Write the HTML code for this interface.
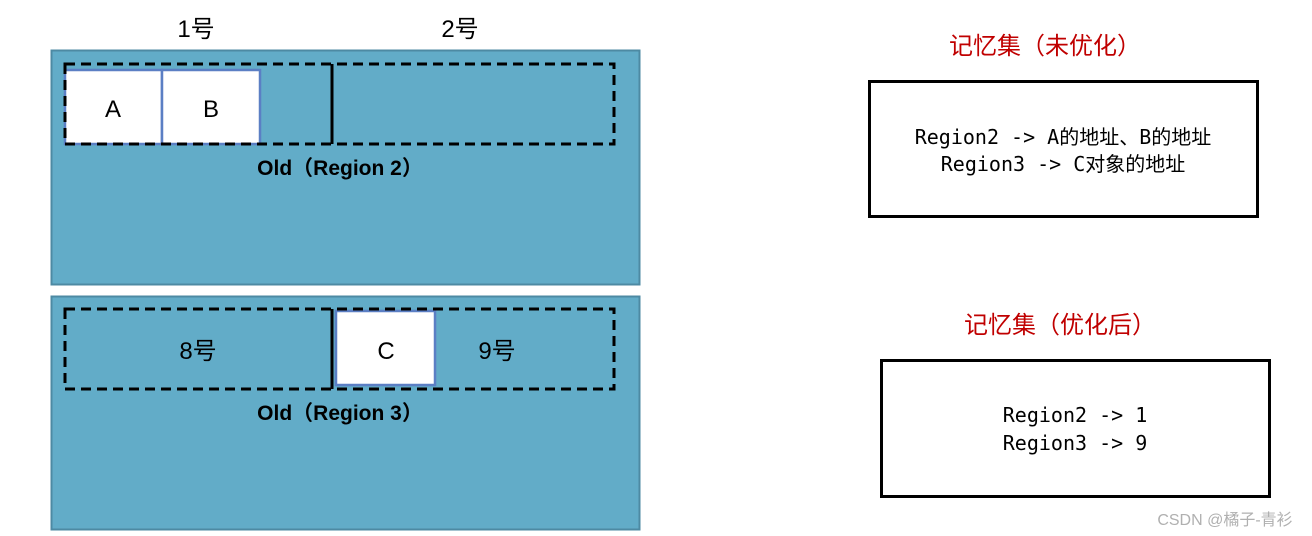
<!DOCTYPE html>
<html><head><meta charset="utf-8"><style>
html,body{margin:0;padding:0;background:#fff;width:1312px;height:536px;overflow:hidden}
text{font-family:"Liberation Sans","Noto Sans CJK SC",sans-serif}
.m{font-family:"DejaVu Sans Mono","Liberation Mono","Noto Sans CJK SC",monospace}
</style></head><body>
<svg width="1312" height="536" xmlns="http://www.w3.org/2000/svg">
<text x="196" y="37" font-size="24" text-anchor="middle">1号</text>
<text x="460" y="37" font-size="24" text-anchor="middle">2号</text>
<rect x="51.5" y="50.5" width="588" height="234" fill="#62acc8" stroke="#4d8aa3" stroke-width="2"/>
<rect x="65" y="70" width="97" height="74" fill="#fff" stroke="#5b7fc4" stroke-width="2.5"/>
<rect x="162" y="70" width="98" height="74" fill="#fff" stroke="#5b7fc4" stroke-width="2.5"/>
<rect x="65" y="64" width="549" height="80" fill="none" stroke="#000" stroke-width="3" stroke-dasharray="10,6"/>
<line x1="332" y1="64" x2="332" y2="144" stroke="#000" stroke-width="3"/>
<text x="113" y="117" font-size="24" text-anchor="middle">A</text>
<text x="211" y="117" font-size="24" text-anchor="middle">B</text>
<text x="340" y="175" font-size="21" font-weight="bold" text-anchor="middle">Old（Region 2）</text>

<rect x="51.5" y="296.5" width="588" height="233" fill="#62acc8" stroke="#4d8aa3" stroke-width="2"/>
<rect x="336" y="311" width="99" height="74" fill="#fff" stroke="#5b7fc4" stroke-width="2.5"/>
<rect x="65" y="309" width="549" height="80" fill="none" stroke="#000" stroke-width="3" stroke-dasharray="10,6"/>
<line x1="332" y1="309" x2="332" y2="389" stroke="#000" stroke-width="3"/>
<text x="198" y="359" font-size="24" text-anchor="middle">8号</text>
<text x="386" y="359" font-size="24" text-anchor="middle">C</text>
<text x="497" y="359" font-size="24" text-anchor="middle">9号</text>
<text x="340" y="420" font-size="21" font-weight="bold" text-anchor="middle">Old（Region 3）</text>

<text x="1045" y="54" font-size="24" fill="#c00000" text-anchor="middle">记忆集（未优化）</text>
<rect x="869.5" y="81.5" width="388" height="135" fill="#fff" stroke="#000" stroke-width="3"/>
<text x="1063" y="144" class="m" font-size="20" text-anchor="middle">Region2 -&gt; A的地址、B的地址</text>
<text x="1063" y="171" class="m" font-size="20" text-anchor="middle">Region3 -&gt; C对象的地址</text>

<text x="1060" y="333" font-size="24" fill="#c00000" text-anchor="middle">记忆集（优化后）</text>
<rect x="881.5" y="360.5" width="388" height="136" fill="#fff" stroke="#000" stroke-width="3"/>
<text x="1075" y="422" class="m" font-size="20" text-anchor="middle">Region2 -&gt; 1</text>
<text x="1075" y="450" class="m" font-size="20" text-anchor="middle">Region3 -&gt; 9</text>

<text x="1225" y="525" font-size="16" fill="#b0b0b0" text-anchor="middle">CSDN @橘子-青衫</text>
</svg>
</body></html>
